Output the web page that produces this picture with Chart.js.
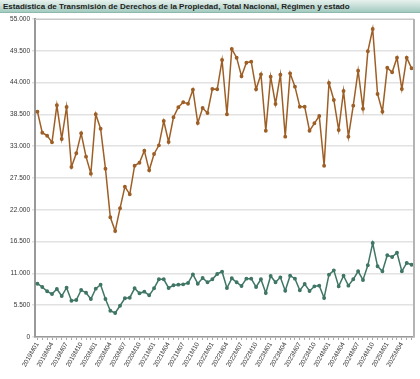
<!DOCTYPE html>
<html>
<head>
<meta charset="utf-8">
<script src="https://cdn.jsdelivr.net/npm/chart.js@4"></script>
<style>
  body { margin: 0; background: #fff; }
  #wrap { position: relative; width: 420px; height: 379px; }
  #title {
    position: absolute; left: 0; top: 0; width: 420px; height: 13px;
    background: linear-gradient(#e8f2ee, #a3cbc0);
    border-bottom: 1px solid #8fb8ad;
    font: bold 8px "Liberation Sans", Arial, sans-serif;
    color: #222; line-height: 13px; padding-left: 3px; box-sizing: border-box;
    white-space: nowrap;
  }
  #c { position: absolute; left: 0; top: 0; }
</style>
</head>
<body>
<div id="wrap">
  <canvas id="c" width="420" height="379"></canvas>
  <div id="title">Estadística de Transmisión de Derechos de la Propiedad, Total Nacional, Régimen y estado</div>
</div>
<script>
// months 2019M01 .. 2025M06
let months = [];
for (let y = 2019; y <= 2025; y++) {
    for (let m = 1; m <= 12; m++) {
        if (y == 2025 && m > 6) break;
        months.push(y + "M" + (m < 10 ? "0" + m : m));
    }
}

let totalValues = [
    38970, 35330, 34820, 33670, 40070, 34250, 39780, 29400, 31770, 35230, 31190, 28250,
    38520, 36030, 29110, 20700, 18330, 22260, 26000, 24680, 29630, 30150, 32230, 28830,
    31650, 33150, 37360, 33730, 38000, 39730, 40590, 40350, 42770, 37010, 39600, 38740,
    42890, 42840, 47900, 38520, 49810, 48310, 45090, 47440, 47620, 42840, 45430, 35680,
    45020, 40300, 45370, 34650, 45600, 43300, 39830, 39830, 35680, 36960, 38220, 29630,
    43930, 40990, 35800, 42550, 34650, 40010, 46060, 39490, 49410, 53270, 42030, 38970,
    46580, 45780, 48310, 42890, 48310, 46470
];

let secondValues = [
    9220, 8650, 7900, 7440, 8300, 7090, 8530, 6280, 6400, 8130, 7660, 6570,
    8360, 9050, 6570, 4550, 4150, 5410, 6690, 6800, 8420, 7560, 7840, 7210,
    8420, 9980, 9980, 8480, 8940, 9050, 9110, 9340, 10840, 9220, 10200, 9460,
    9980, 10900, 11300, 8480, 10150, 9460, 8820, 10090, 10090, 8650, 9980, 7610,
    10550, 9460, 10320, 8010, 10610, 10090, 8070, 9170, 7960, 8760, 8880, 6750,
    10780, 11530, 8760, 10610, 8880, 9980, 11360, 9860, 12400, 16260, 12230, 11360,
    14130, 13840, 14580, 11360, 12800, 12500
];

let yTicks = [0, 5500, 11000, 16500, 22000, 27500, 33000, 38500, 44000, 49500, 55000];

const boxPlugin = {
    id: 'box',
    afterDraw(chart) {
        const a = chart.chartArea;
        const ctx = chart.ctx;
        ctx.save();
        ctx.strokeStyle = '#c8c8c8';
        ctx.lineWidth = 1;
        ctx.beginPath();
        ctx.moveTo(a.left, a.top + 0.5);
        ctx.lineTo(a.right, a.top + 0.5);
        ctx.stroke();
        ctx.strokeStyle = '#b4b4b4';
        ctx.lineWidth = 2;
        ctx.beginPath();
        ctx.moveTo(a.right, a.top);
        ctx.lineTo(a.right, a.bottom);
        ctx.stroke();
        ctx.restore();
    }
};

new Chart('c', {
    type: 'line',
    data: {
        labels: months,
        datasets: [{
            data: totalValues,
            borderColor: '#9e5f26',
            backgroundColor: '#9e5f26',
            borderWidth: 1.5,
            pointRadius: 1.2,
            pointHoverRadius: 1.2,
            tension: 0
        }, {
            data: secondValues,
            borderColor: '#3f7666',
            backgroundColor: '#3f7666',
            borderWidth: 1.5,
            pointRadius: 1.2,
            pointHoverRadius: 1.2,
            tension: 0
        }]
    },
    options: {
        responsive: false,
        animation: false,
        layout: { padding: { top: 19, right: 6, left: 0, bottom: 0 } },
        plugins: { legend: { display: false }, tooltip: { enabled: false } },
        scales: {
            x: {
                offset: true,
                grid: { display: true, drawOnChartArea: false, drawTicks: true, tickLength: 3, color: '#aaa', offset: false },
                border: { display: true, color: '#999', width: 1.5 },
                afterFit(s) { s.height = 42; },
                ticks: {
                    autoSkip: false,
                    minRotation: 60,
                    maxRotation: 60,
                    padding: 1,
                    color: '#333',
                    font: { family: 'Liberation Sans', size: 6.5 },
                    callback: function(v, i) { return i % 3 == 0 ? months[i] : ''; }
                }
            },
            y: {
                min: 0,
                max: 55000,
                afterFit(s) { s.width = 35; },
                afterBuildTicks(s) { s.ticks = yTicks.map(v => ({ value: v })); },
                grid: { color: '#e2e2e2', lineWidth: 1.5, drawTicks: true, tickLength: 3 },
                border: { display: true, color: '#999', width: 2 },
                ticks: {
                    padding: 2,
                    color: '#333',
                    font: { family: 'Liberation Sans', size: 6.5 },
                    callback: v => v.toLocaleString('de-DE')
                }
            }
        }
    },
    plugins: [boxPlugin]
});
</script>
</body>
</html>
